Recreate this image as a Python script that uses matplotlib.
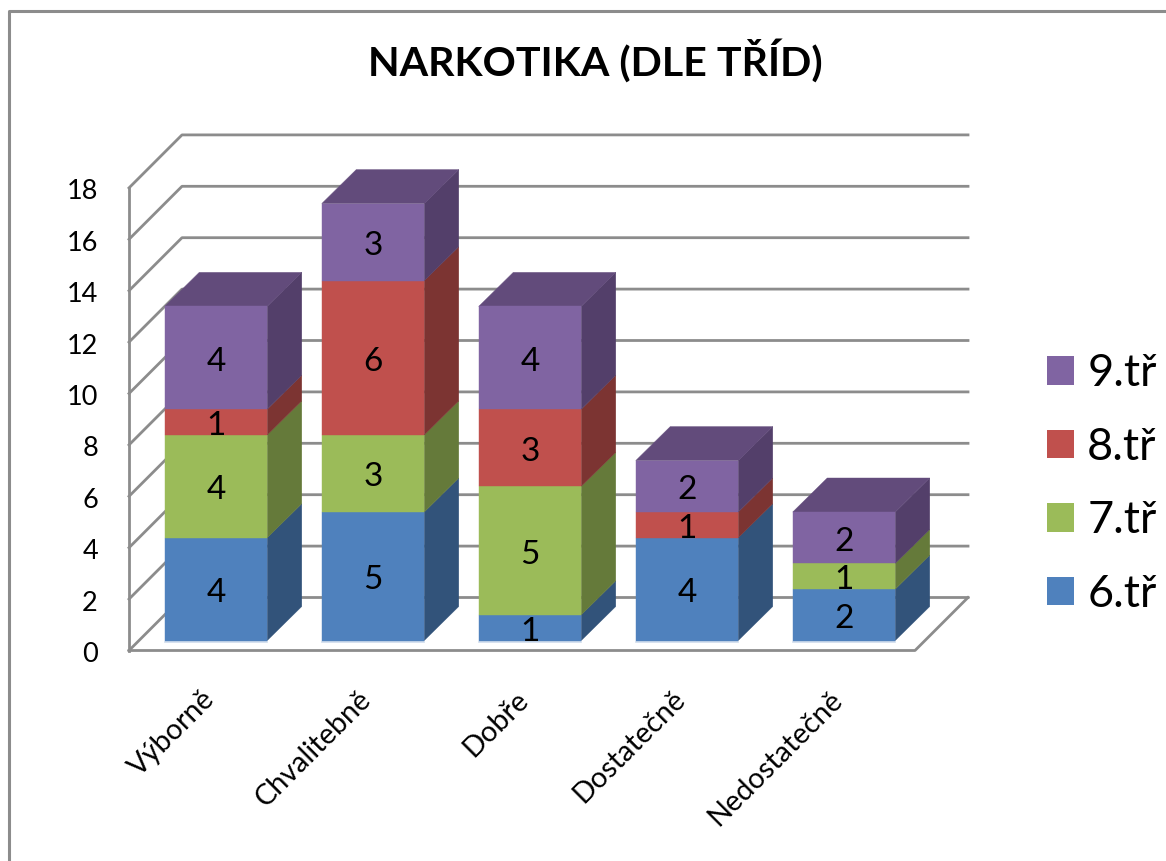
import matplotlib
matplotlib.use("Agg")
import matplotlib.pyplot as plt
import numpy as np
from matplotlib.patches import Patch, Polygon

plt.rcParams["font.family"] = ["Lato", "DejaVu Sans"]

categories = ["Výborně", "Chvalitebně", "Dobře", "Dostatečně", "Nedostatečně"]
series_names = ["6.tř", "7.tř", "8.tř", "9.tř"]
values_6 = [4, 5, 1, 4, 2]
values_7 = [4, 3, 5, 0, 1]
values_8 = [1, 6, 3, 1, 0]
values_9 = [4, 3, 4, 2, 2]
y_ticks = [0, 2, 4, 6, 8, 10, 12, 14, 16, 18]

front_colors = ["#4f81bd", "#9bbb59", "#c0504d", "#8064a2"]
side_colors = ["#32537a", "#657a3a", "#7c3432", "#533f6a"]
top_colors = ["#3b618f", "#758e43", "#913c3a", "#624b7b"]
grid_color = "#8c8c8c"

W, H = 1166, 861
PX_X = 157.0   # pixels per category
PX_Y = 25.7    # pixels per unit of value
X0_PX = 216.0
Y0_PX = 640.5

fig = plt.figure(figsize=(W / 100, H / 100), dpi=100)
ax = fig.add_axes([0, 0, 1, 1])
ax.set_xlim(-X0_PX / PX_X, (W - X0_PX) / PX_X)
ax.set_ylim(-(H - Y0_PX) / PX_Y, Y0_PX / PX_Y)
ax.axis("off")

# outer chart frame, runs off the right and bottom of the picture
ax.plot([9 / W, 9 / W, 1], [0, 1 - 11 / H, 1 - 11 / H], transform=ax.transAxes,
        color=grid_color, lw=2.2, clip_on=False)

# box of the 3d plot
wall_x = (129 - X0_PX) / PX_X
wall_r = (915 - X0_PX) / PX_X
floor_y = -10 / PX_Y
wall_dx = 53 / PX_X
wall_dy = 53 / PX_Y
line = dict(color=grid_color, lw=2.0, solid_capstyle="projecting", zorder=1)
for v in y_ticks:
    yy = floor_y + v
    ax.plot([wall_x, wall_x + wall_dx, wall_r + wall_dx],
            [yy, yy + wall_dy, yy + wall_dy], **line)
ax.plot([wall_x, wall_x], [floor_y, floor_y + y_ticks[-1]], **line)
ax.plot([wall_x, wall_r, wall_r + wall_dx],
        [floor_y, floor_y, floor_y + wall_dy], **line)

for v in y_ticks:
    ax.text((98 - X0_PX) / PX_X, floor_y + v - 4 / PX_Y, str(v), ha="right",
            va="center", fontsize=19.5, color="black")

# stacked bars
half = 51.25 / PX_X
dx = 34.5 / PX_X
dy = 34 / PX_Y
stacks = [values_6, values_7, values_8, values_9]
z = 2
for i in range(len(categories)):
    bottom = 0
    l, r = i - half, i + half
    # pale edge under the front face
    ax.plot([l, r], [-1.5 / PX_Y, -1.5 / PX_Y], color="#cfdcec", lw=1.2, zorder=z)
    for s, vals in enumerate(stacks):
        v = vals[i]
        if v == 0:
            continue
        top = bottom + v
        ax.add_patch(Polygon([(r, bottom), (r + dx, bottom + dy), (r + dx, top + dy), (r, top)],
                             closed=True, fc=side_colors[s], ec=side_colors[s], lw=0.3, zorder=z))
        ax.add_patch(Polygon([(l, bottom), (r, bottom), (r, top), (l, top)],
                             closed=True, fc=front_colors[s], ec=front_colors[s], lw=0.3, zorder=z + 1))
        if top == sum(st[i] for st in stacks):
            ax.add_patch(Polygon([(l, top), (r, top), (r + dx, top + dy), (l + dx, top + dy)],
                                 closed=True, fc=top_colors[s], ec=top_colors[s], lw=0.3, zorder=z))
        ax.text(i, bottom + v / 2 - 4 / PX_Y, str(v), ha="center", va="center", fontsize=24,
                color="black", zorder=z + 2)
        bottom = top
    z += 3

# category labels
for i, name in enumerate(categories):
    ax.text(i - 15 / PX_X, (Y0_PX - 686) / PX_Y, name, rotation=45, ha="right", va="top",
            rotation_mode="anchor", fontsize=20.8, color="black")

ax.text((595 - X0_PX) / PX_X, (Y0_PX - 61) / PX_Y, "NARKOTIKA (DLE TŘÍD)", ha="center",
        va="center", fontsize=29.6, fontweight="bold", color="black")

handles = [Patch(fc=c, ec="none", label=n) for c, n in zip(front_colors, series_names)]
leg = ax.legend(handles[::-1], series_names[::-1], loc="center left",
                bbox_to_anchor=(1047 / W, 1 - 484 / H), frameon=False, fontsize=32.5,
                handlelength=0.6, handleheight=0.6, handletextpad=0.29,
                labelspacing=0.72, borderpad=0, borderaxespad=0)

fig.savefig("out.png", dpi=100)
